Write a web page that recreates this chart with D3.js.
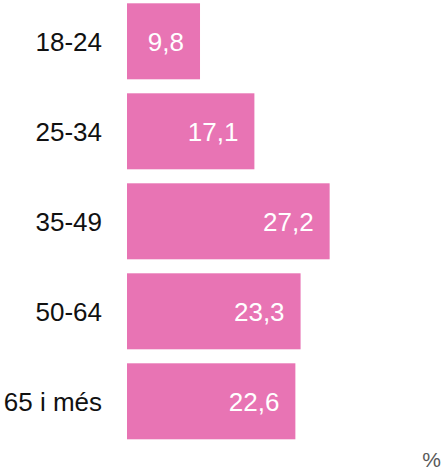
<!DOCTYPE html>
<html>
<head>
<meta charset="utf-8">
<script src="https://cdn.jsdelivr.net/npm/d3@7"></script>
<style>
  body { margin: 0; background: #fff; }
  text { font-family: "Liberation Sans", Arial, sans-serif; }
</style>
</head>
<body>
<div class="chart"></div>
<script>
// Width and height
var w = 443;
var h = 472;

// data
const categories = ["18-24", "25-34", "35-49", "50-64", "65 i més"];
const values = [9.8, 17.1, 27.2, 23.3, 22.6];
const unitLabel = "%";

const fmt = v => String(v.toFixed(1)).replace(".", ",");

const svg = d3.select(".chart")
  .append("svg")
  .attr("width", w)
  .attr("height", h);

// scales
const x = d3.scaleLinear()
  .domain([0, 30])
  .range([127, 127 + 223.5]);

const y = d3.scaleBand()
  .domain(categories)
  .range([-3.7, 446.3])
  .paddingInner(14 / 90)
  .paddingOuter(7 / 90);

// bars
svg.selectAll("rect.bar")
  .data(values)
  .enter()
  .append("rect")
  .attr("class", "bar")
  .attr("x", x(0))
  .attr("y", (d, i) => y(categories[i]))
  .attr("width", d => x(d) - x(0))
  .attr("height", y.bandwidth())
  .attr("fill", "#e874b4");

// values inside the bars
svg.selectAll("text.val")
  .data(values)
  .enter()
  .append("text")
  .attr("class", "val")
  .attr("x", d => x(d) - 16)
  .attr("y", (d, i) => y(categories[i]) + y.bandwidth() / 2 + 9.5)
  .attr("text-anchor", "end")
  .attr("fill", "#fff")
  .attr("font-size", 26)
  .text(d => fmt(d));

// category labels
const yAxis = d3.axisLeft(y).tickSize(0).tickPadding(0);
const ga = svg.append("g")
  .attr("transform", "translate(102,0)")
  .call(yAxis);
ga.select(".domain").remove();
ga.selectAll("text")
  .attr("font-family", "Liberation Sans, Arial, sans-serif")
  .attr("font-size", 26)
  .attr("fill", "#111")
  .attr("dy", null)
  .attr("y", 9.5);

// unit
svg.append("text")
  .attr("x", 441)
  .attr("y", 467)
  .attr("text-anchor", "end")
  .attr("font-size", 21)
  .attr("fill", "#595959")
  .text(unitLabel);
</script>
</body>
</html>
